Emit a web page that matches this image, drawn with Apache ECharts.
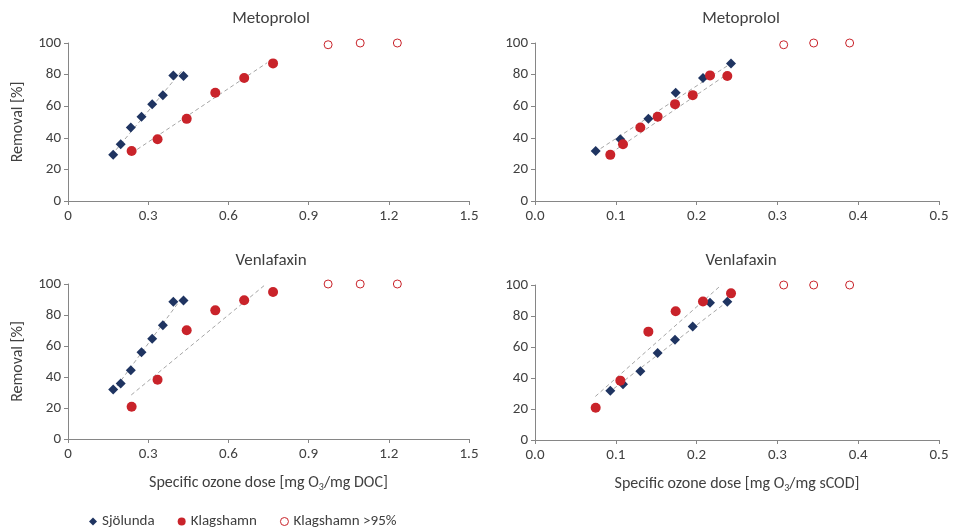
<!DOCTYPE html>
<html>
<head>
<meta charset="utf-8">
<script src="https://cdn.jsdelivr.net/npm/echarts@6/dist/echarts.min.js"></script>
<style>html,body{margin:0;padding:0;background:#fff}#c{width:958px;height:532px}</style>
</head>
<body>
<div id="c"></div>
<script>
// ---- tick labels / axis ranges ----
const docTicks = ['0', '0.3', '0.6', '0.9', '1.2', '1.5'];
const codTicks = ['0.0', '0.1', '0.2', '0.3', '0.4', '0.5'];
const removalTicks = [0, 20, 40, 60, 80, 100];

// ---- Metoprolol vs DOC dose ----
const sjoMetDocX = [0.169, 0.197, 0.235, 0.275, 0.315, 0.355, 0.394, 0.432];
const sjoMetDocY = [29.2, 35.9, 46.5, 53.3, 61.3, 67.0, 79.5, 79.1];
const klaMetDocX = [0.238, 0.335, 0.444, 0.551, 0.659, 0.767];
const klaMetDocY = [31.7, 39.1, 52.0, 68.5, 77.8, 87.1];
const klaHighDocX = [0.973, 1.093, 1.232];
const klaHighMetY = [98.9, 100, 100];
const trendSjoMetDocX = [0.163, 0.431];
const trendSjoMetDocY = [29.0, 83.5];
const trendKlaMetDocX = [0.237, 0.745];
const trendKlaMetDocY = [30.2, 87.5];

// ---- Metoprolol vs sCOD dose ----
const sjoMetCodX = [0.0751, 0.1056, 0.1403, 0.1741, 0.2079, 0.2426];
const sjoMetCodY = [31.7, 39.1, 52.0, 68.5, 77.8, 87.1];
const klaMetCodX = [0.0932, 0.1089, 0.1304, 0.1518, 0.1733, 0.1952, 0.2166, 0.2380];
const klaMetCodY = [29.2, 35.9, 46.5, 53.3, 61.3, 67.0, 79.5, 79.1];
const klaHighCodX = [0.3078, 0.3449, 0.3894];
const trendSjoMetCodX = [0.074, 0.243];
const trendSjoMetCodY = [30.8, 87.2];
const trendKlaMetCodX = [0.094, 0.240];
const trendKlaMetCodY = [30.4, 81.0];

// ---- Venlafaxin vs DOC dose ----
const sjoVenDocX = [0.169, 0.197, 0.235, 0.275, 0.315, 0.355, 0.394, 0.432];
const sjoVenDocY = [32.0, 35.8, 44.4, 56.0, 64.6, 73.4, 88.6, 89.3];
const klaVenDocX = [0.238, 0.335, 0.444, 0.551, 0.659, 0.767];
const klaVenDocY = [20.8, 38.2, 70.2, 83.0, 89.5, 94.8];
const klaHighVenY = [100, 100, 100];
const trendSjoVenDocX = [0.168, 0.432];
const trendSjoVenDocY = [30.6, 92.5];
const trendKlaVenDocX = [0.2365, 0.741];
const trendKlaVenDocY = [28.4, 100];

// ---- Venlafaxin vs sCOD dose ----
const sjoVenCodX = [0.0932, 0.1089, 0.1304, 0.1518, 0.1733, 0.1952, 0.2166, 0.2380];
const sjoVenCodY = [31.8, 35.9, 44.4, 56.1, 64.7, 73.2, 88.5, 89.2];
const klaVenCodX = [0.0751, 0.1056, 0.1403, 0.1741, 0.2079, 0.2426];
const klaVenCodY = [20.8, 38.3, 69.9, 83.1, 89.4, 94.6];
const trendSjoVenCodX = [0.0904, 0.241];
const trendSjoVenCodY = [30.3, 90.5];
const trendKlaVenCodX = [0.0747, 0.2306];
const trendKlaVenCodY = [28.1, 100];

const titles = ['Metoprolol', 'Metoprolol', 'Venlafaxin', 'Venlafaxin'];
const seriesNames = ['Sjölunda', 'Klagshamn', 'Klagshamn >95%'];

// ---- styling ----
const FONT = 'Carlito, Lato, "Open Sans", sans-serif';
const TXT = '#404040';
const AX = '#868686';
const NAVY = '#1F3461';
const RED = '#C9232A';
const TREND = '#A6A6A6';

function zip(xs, ys) { return xs.map((x, i) => [x, ys[i]]); }

const grids = [
  { left: 68, top: 43, width: 401, height: 158 },
  { left: 535, top: 43, width: 404, height: 158 },
  { left: 68, top: 284, width: 401, height: 155 },
  { left: 535, top: 285, width: 404, height: 155 }
];

function xAxis(i, isDoc, showName) {
  const ticks = isDoc ? docTicks : codTicks;
  const step = isDoc ? 0.3 : 0.1;
  const nm = isDoc ? 'DOC' : 'sCOD';
  return {
    type: 'value', gridIndex: i, min: 0, max: step * 5, interval: step,
    splitLine: { show: false },
    axisLine: { lineStyle: { color: AX, width: 1 } },
    axisTick: { show: true, length: 4, lineStyle: { color: AX } },
    axisLabel: { color: TXT, fontSize: 15, fontFamily: FONT, margin: 8,
      formatter: v => ticks[Math.round(v / step)] },
    name: showName ? '{t|Specific ozone dose [mg O}{s|3}{t|/mg ' + nm + ']}' : '',
    nameLocation: 'middle', nameGap: 34,
    nameTextStyle: { rich: {
      t: { fontSize: 16, color: TXT, fontFamily: FONT },
      s: { fontSize: 10, color: TXT, fontFamily: FONT, padding: [9, 0, 0, 0] }
    } }
  };
}
function yAxis(i, showName) {
  return {
    type: 'value', gridIndex: i, min: removalTicks[0], max: removalTicks[removalTicks.length - 1],
    interval: removalTicks[1] - removalTicks[0],
    splitLine: { show: false },
    axisLine: { show: true, lineStyle: { color: AX, width: 1 } },
    axisTick: { show: true, length: 4, lineStyle: { color: AX } },
    axisLabel: { color: TXT, fontSize: 15, fontFamily: FONT, margin: 7 },
    name: showName ? 'Removal [%]' : '', nameLocation: 'middle', nameGap: 42,
    nameTextStyle: { color: TXT, fontSize: 16, fontFamily: FONT }
  };
}

const panelData = [
  { sjo: zip(sjoMetDocX, sjoMetDocY), kla: zip(klaMetDocX, klaMetDocY), hi: zip(klaHighDocX, klaHighMetY),
    tS: zip(trendSjoMetDocX, trendSjoMetDocY), tK: zip(trendKlaMetDocX, trendKlaMetDocY) },
  { sjo: zip(sjoMetCodX, sjoMetCodY), kla: zip(klaMetCodX, klaMetCodY), hi: zip(klaHighCodX, klaHighMetY),
    tS: zip(trendSjoMetCodX, trendSjoMetCodY), tK: zip(trendKlaMetCodX, trendKlaMetCodY) },
  { sjo: zip(sjoVenDocX, sjoVenDocY), kla: zip(klaVenDocX, klaVenDocY), hi: zip(klaHighDocX, klaHighVenY),
    tS: zip(trendSjoVenDocX, trendSjoVenDocY), tK: zip(trendKlaVenDocX, trendKlaVenDocY) },
  { sjo: zip(sjoVenCodX, sjoVenCodY), kla: zip(klaVenCodX, klaVenCodY), hi: zip(klaHighCodX, klaHighVenY),
    tS: zip(trendSjoVenCodX, trendSjoVenCodY), tK: zip(trendKlaVenCodX, trendKlaVenCodY) }
];

const series = [];
panelData.forEach((p, i) => {
  const trendStyle = { color: TREND, width: 1, type: [4, 3] };
  series.push({ type: 'line', name: 'trendS' + i, xAxisIndex: i, yAxisIndex: i, data: p.tS,
    showSymbol: false, symbol: 'none', lineStyle: trendStyle, silent: true, z: 1 });
  series.push({ type: 'line', name: 'trendK' + i, xAxisIndex: i, yAxisIndex: i, data: p.tK,
    showSymbol: false, symbol: 'none', lineStyle: trendStyle, silent: true, z: 1 });
  series.push({ type: 'scatter', name: seriesNames[0], xAxisIndex: i, yAxisIndex: i, data: p.sjo,
    symbol: 'diamond', symbolSize: 10, itemStyle: { color: NAVY, opacity: 1 }, z: 3 });
  series.push({ type: 'scatter', name: seriesNames[1], xAxisIndex: i, yAxisIndex: i, data: p.kla,
    symbol: 'circle', symbolSize: 10, itemStyle: { color: RED, opacity: 1 }, z: 3 });
  series.push({ type: 'scatter', name: seriesNames[2], xAxisIndex: i, yAxisIndex: i, data: p.hi,
    symbol: 'circle', symbolSize: 8, itemStyle: { color: '#fff', borderColor: RED, borderWidth: 1, opacity: 1 }, z: 3 });
});

const chart = echarts.init(document.getElementById('c'), null, { renderer: 'canvas' });
chart.setOption({
  animation: false,
  backgroundColor: '#fff',
  title: [
    { text: titles[0], left: 266, top: 5, textAlign: 'center' },
    { text: titles[1], left: 736, top: 5, textAlign: 'center' },
    { text: titles[2], left: 266, top: 247, textAlign: 'center' },
    { text: titles[3], left: 736, top: 247, textAlign: 'center' }
  ].map(t => Object.assign(t, { textStyle: { color: TXT, fontSize: 17, fontWeight: 'normal', fontFamily: FONT } })),
  grid: grids,
  xAxis: [xAxis(0, true, false), xAxis(1, false, false), xAxis(2, true, true), xAxis(3, false, true)],
  yAxis: [yAxis(0, true), yAxis(1, false), yAxis(2, true), yAxis(3, false)],
  legend: {
    left: 84, top: 509, itemWidth: 8, itemHeight: 8, itemGap: 23,
    textStyle: { color: TXT, fontSize: 15, fontFamily: FONT },
    data: [
      { name: seriesNames[0], icon: 'diamond' },
      { name: seriesNames[1], icon: 'circle' },
      { name: seriesNames[2], icon: 'circle', itemStyle: { color: '#fff', borderColor: RED, borderWidth: 1 } }
    ]
  },
  series: series
});
</script>
</body>
</html>
